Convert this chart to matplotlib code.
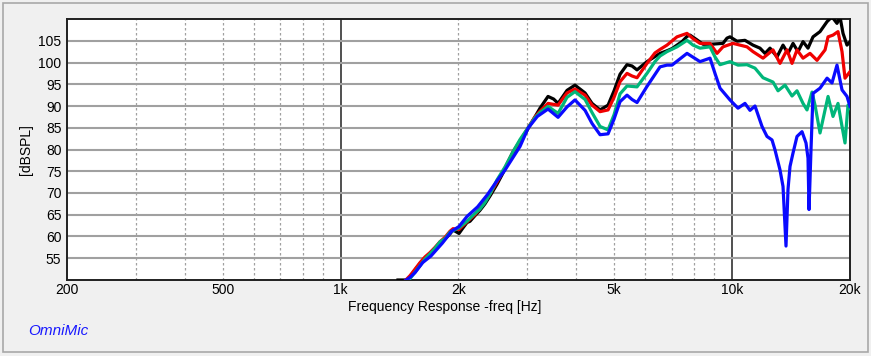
import numpy as np
import matplotlib.pyplot as plt
from matplotlib.patches import Rectangle
from matplotlib.ticker import FixedLocator, NullFormatter

plt.rcParams['font.family'] = ['Liberation Sans', 'DejaVu Sans']

# frequency response data (Hz, dB SPL)
black_freq = [1401, 1460, 1490, 1504, 1549, 1595, 1642, 1691, 1742, 1794, 1847, 1902, 1937, 1980,
              2006, 2054, 2102, 2140, 2204, 2268, 2337, 2407, 2508, 2630, 2756, 2872, 3011, 3136,
              3230, 3386, 3500, 3592, 3787, 3968, 4210, 4386, 4598, 4820, 4993, 5172, 5388, 5550,
              5715, 6060, 6543, 6817, 7020, 7446, 7668, 7805, 8132, 8424, 8779, 9148, 9475, 9700,
              9873, 10288, 10783, 11304, 11780, 12132, 12494, 13020, 13487, 13888, 14305, 14730,
              15171, 15623, 16090, 16766, 17475, 17990, 18526, 18858, 19195, 19650, 20000]
black_db = [50.0, 50.0, 50.2, 50.6, 52.3, 53.8, 55.0, 55.9, 57.2, 58.4, 59.4, 60.6, 61.5, 61.0,
            60.7, 62.0, 63.2, 63.5, 64.8, 66.0, 67.5, 69.3, 72.0, 75.5, 79.3, 81.5, 84.8, 87.5,
            89.5, 92.2, 91.6, 90.6, 93.6, 94.8, 93.0, 90.6, 89.1, 90.2, 93.5, 97.3, 99.5, 99.2,
            98.3, 100.2, 102.1, 102.7, 103.2, 104.8, 106.0, 106.3, 105.2, 104.2, 104.2, 104.3, 104.4, 105.6,
            105.9, 104.9, 105.1, 104.0, 103.3, 102.1, 103.3, 101.3, 104.0, 102.1, 104.4, 102.5,
            104.8, 103.3, 105.9, 107.1, 109.4, 110.5, 109.0, 110.5, 106.7, 104.0, 104.8]

red_freq = [1460, 1504, 1549, 1595, 1642, 1691, 1742, 1794, 1847, 1902, 1937, 2006, 2054, 2140,
            2204, 2268, 2337, 2407, 2508, 2630, 2756, 2872, 3011, 3136, 3230, 3386, 3592, 3787,
            3968, 4210, 4386, 4598, 4820, 4993, 5172, 5388, 5550, 5715, 6060, 6351, 6543, 6817,
            7230, 7668, 7944, 8278, 8779, 9148, 9475, 10048, 10912, 11304, 11990, 12717, 13250,
            13807, 14221, 14643, 15171, 15808, 16473, 17270, 17578, 18096, 18636, 19082, 19420, 20000]
red_db = [49.8, 51.0, 52.5, 54.0, 55.3, 56.3, 57.5, 58.8, 59.8, 61.2, 61.8, 61.6, 62.5, 64.0,
          65.0, 66.4, 68.0, 69.8, 72.5, 75.8, 79.5, 82.0, 85.0, 87.5, 88.8, 90.6, 90.2, 93.0,
          93.9, 92.5, 90.2, 88.7, 89.1, 92.0, 95.6, 97.5, 96.9, 96.5, 99.8, 102.2, 103.0, 104.0,
          105.9, 106.7, 105.5, 104.4, 104.4, 102.1, 103.6, 104.4, 103.6, 102.5, 101.0, 102.9, 99.8,
          102.9, 99.8, 102.9, 101.0, 102.1, 100.5, 102.9, 105.9, 106.3, 107.1, 102.5, 96.4, 97.9]

green_freq = [1460, 1504, 1549, 1595, 1642, 1691, 1742, 1794, 1847, 1902, 2006, 2102, 2204, 2268,
              2337, 2407, 2508, 2630, 2756, 2872, 3011, 3136, 3230, 3386, 3592, 3787, 3968, 4210,
              4386, 4598, 4820, 4993, 5172, 5388, 5715, 6060, 6351, 6543, 6817, 7230, 7668, 7944,
              8278, 8779, 9040, 9311, 9873, 10350, 10912, 11438, 11990, 12717, 13097, 13646, 14221,
              14643, 15171, 15531, 15996, 16280, 16766, 17270, 17578, 18096, 18636, 19082, 19420,
              19766, 20000]
green_db = [49.5, 50.3, 51.8, 53.3, 54.8, 56.0, 57.3, 58.8, 59.5, 61.0, 62.0, 63.5, 65.3, 66.3,
            67.8, 69.8, 73.0, 76.0, 79.5, 82.3, 85.0, 87.3, 88.5, 89.9, 88.3, 92.0, 93.3, 91.5,
            88.5, 85.3, 84.5, 88.0, 92.8, 94.6, 94.4, 97.5, 100.2, 101.5, 102.5, 103.6, 105.1, 104.0,
            103.3, 103.6, 101.3, 99.5, 100.2, 99.4, 99.5, 98.7, 96.5, 95.5, 93.5, 94.8, 92.3,
            93.5, 90.6, 89.1, 93.2, 90.2, 83.8, 89.1, 92.2, 87.6, 90.6, 85.3, 81.5,
            90.2, 89.5]

blue_freq = [1460, 1504, 1549, 1620, 1700, 1820, 1920, 2006, 2102, 2237, 2370, 2508, 2630, 2872,
             3011, 3180, 3386, 3592, 3787, 3968, 4210, 4386, 4598, 4820, 4993, 5172, 5388, 5550,
             5715, 6060, 6543, 6817, 7020, 7668, 8278, 8779, 9040, 9311, 9873, 10350, 10783, 11107,
             11438, 11920, 12275, 12642, 12867, 13250, 13487, 13726, 13888, 14053, 14305, 14643,
             15082, 15440, 15623, 15716, 15900, 16090, 16766, 17475, 17990, 18526, 19082, 19650, 20000]
blue_db = [49.8, 50.6, 51.7, 54.0, 55.5, 58.5, 61.2, 62.3, 64.6, 66.8, 69.6, 72.8, 75.3, 80.7,
           84.9, 87.6, 89.3, 87.4, 89.8, 91.4, 89.0, 86.0, 83.4, 83.6, 87.0, 91.0, 92.5, 91.5,
           90.8, 94.5, 99.0, 99.4, 99.4, 102.1, 100.2, 101.0, 97.5, 94.1, 91.4, 89.5, 90.6, 89.0,
           90.0, 85.3, 83.0, 82.2, 79.9, 75.3, 71.5, 57.8, 70.8, 76.1, 79.2, 83.0,
           84.1, 81.5, 78.0, 66.2, 80.0, 92.9, 94.1, 96.4, 95.3, 99.4, 93.7, 92.2, 89.9]

series = [(black_freq, black_db, '#000000'),
          (red_freq, red_db, '#f00000'),
          (green_freq, green_db, '#00b67a'),
          (blue_freq, blue_db, '#0a0aff')]

x_ticks = [200, 500, 1000, 2000, 5000, 10000, 20000]
x_labels = ['200', '500', '1k', '2k', '5k', '10k', '20k']
y_ticks = [55, 60, 65, 70, 75, 80, 85, 90, 95, 100, 105]

fig = plt.figure(figsize=(8.71, 3.56), dpi=100, facecolor='#f0f0f0')
fig.patches.append(Rectangle((0.004, 0.012), 0.992, 0.98, transform=fig.transFigure,
                             fill=False, edgecolor='#a8a8a8', linewidth=1.2))
ax = fig.add_axes([0.0769, 0.2135, 0.8990, 0.7331])
ax.set_facecolor('white')
ax.set_xscale('log')
ax.set_xlim(200, 20000)
ax.set_ylim(50, 110)

# grid: dotted minor decades, solid black at 1k/10k, solid gray horizontals
minor = [f * m for f in (100, 1000, 10000) for m in range(2, 10)]
minor = [m for m in minor if 200 < m < 20000 and m not in (1000, 10000)]
for m in minor:
    ax.axvline(m, color='#a0a0a0', linestyle=(0, (2, 2)), linewidth=0.9, zorder=1)
for m in (1000, 10000):
    ax.axvline(m, color='#202020', linewidth=1.1, zorder=1)
for y in y_ticks:
    ax.axhline(y, color='#a0a0a0', linewidth=1.5, zorder=1)

for f, db, c in series:
    ax.plot(f, db, color=c, linewidth=2.3, zorder=3, solid_joinstyle='round')

ax.xaxis.set_major_locator(FixedLocator(x_ticks))
ax.set_xticklabels(x_labels)
ax.xaxis.set_minor_formatter(NullFormatter())
ax.set_yticks(y_ticks)
ax.tick_params(axis='both', which='both', length=0, labelsize=10, pad=4)
ax.tick_params(axis='x', pad=2)
for s in ax.spines.values():
    s.set_color('#202020')
    s.set_linewidth(1.4)
ax.set_ylabel('[dBSPL]', fontsize=10)
ax.yaxis.set_label_coords(-0.043, 0.5)

fig.text(445 / 871, 1 - 307 / 356, 'Frequency Response -freq [Hz]', ha='center', va='center', fontsize=10)
fig.text(28 / 871, 1 - 331 / 356, 'OmniMic', color='#1a1aff', style='italic', ha='left', va='center', fontsize=11)

fig.savefig('out.png', dpi=100, facecolor=fig.get_facecolor())
